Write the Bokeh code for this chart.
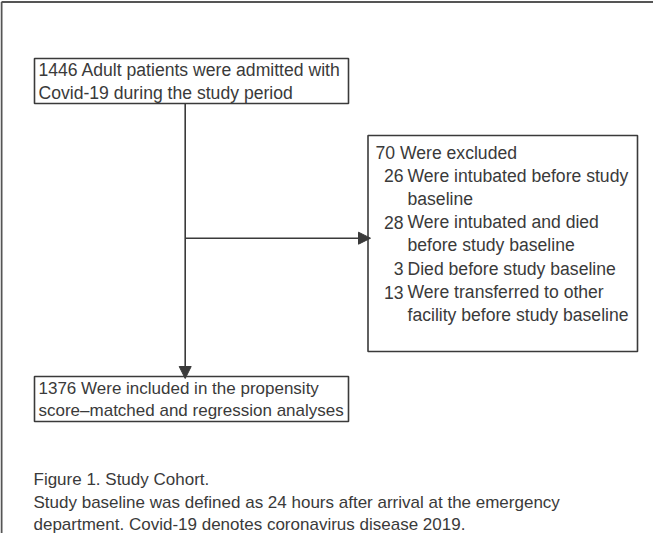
from bokeh.plotting import figure
from bokeh.models import Range1d, ColumnDataSource, Arrow, NormalHead
from bokeh.core.properties import value
from bokeh.embed import file_html
from bokeh.resources import INLINE

# ---- data ----
admitted = 1446
admitted_text = ["Adult patients were admitted with", "Covid-19 during the study period"]
excluded = 70
excluded_text = "Were excluded"
reason_counts = [26, 28, 3, 13]
reason_text = [
    ["Were intubated before study", "baseline"],
    ["Were intubated and died", "before study baseline"],
    ["Died before study baseline"],
    ["Were transferred to other", "facility before study baseline"],
]
included = 1376
included_text = ["Were included in the propensity", "score\u2013matched and regression analyses"]
caption_lines = [
    "Figure 1. Study Cohort.",
    "Study baseline was defined as 24 hours after arrival at the emergency",
    "department. Covid-19 denotes coronavirus disease 2019.",
]

FONT = "Liberation Sans"
FS_BOX = "17.6px"
FS_SMALL = "17px"
TXT = "#3a3a3a"
LINE = "#3a3a3a"

W, H = 653, 533
p = figure(width=W, height=H, x_range=Range1d(0, W), y_range=Range1d(H, 0),
           x_axis_type=None, y_axis_type=None, output_backend="svg",
           toolbar_location=None, min_border=0)
p.grid.visible = False
p.outline_line_color = None
p.background_fill_color = "white"
p.border_fill_color = "white"

# outer frame (left and top edges)
p.line(x=[1, 1], y=[1.5, H + 20], line_color="#555555", line_width=2)
p.line(x=[1, W + 20], y=[1.5, 1.5], line_color="#555555", line_width=2)

# boxes
boxes = ColumnDataSource(dict(left=[34, 367.5, 34], right=[348, 637, 348],
                              top=[58, 135, 376], bottom=[103, 351, 421]))
p.quad(left="left", right="right", top="top", bottom="bottom", source=boxes,
       fill_color="white", line_color=LINE, line_width=1.6)

# connectors
vx = 184.7
p.add_layout(Arrow(x_start=vx, y_start=103, x_end=vx, y_end=378,
                   line_color=LINE, line_width=1.6,
                   end=NormalHead(size=12, fill_color=LINE, line_color=LINE, line_width=1)))
p.add_layout(Arrow(x_start=vx, y_start=237.7, x_end=370, y_end=237.7,
                   line_color=LINE, line_width=1.6,
                   end=NormalHead(size=12, fill_color=LINE, line_color=LINE, line_width=1)))

# box texts (left aligned)
xs, ys, ts = [], [], []
xs += [38, 38]; ys += [69.5, 92]
ts += [f"{admitted} {admitted_text[0]}", admitted_text[1]]
xs += [375]; ys += [152]; ts += [f"{excluded} {excluded_text}"]

# reason lines: counts right aligned, descriptions left aligned
num_x, desc_x = 403, 407
nx, ny, nt = [], [], []
y = 175
step = 23.3
for c, lines in zip(reason_counts, reason_text):
    nx.append(num_x); ny.append(y); nt.append(str(c))
    for ln in lines:
        xs.append(desc_x); ys.append(y); ts.append(ln)
        y += step

p.text(x=xs, y=ys, text=ts, text_font=value(FONT), text_font_size=FS_BOX,
       text_color=TXT, text_align="left", text_baseline="middle")
p.text(x=nx, y=ny, text=nt, text_font=value(FONT), text_font_size=FS_BOX,
       text_color=TXT, text_align="right", text_baseline="middle")

# bottom box text
p.text(x=[38, 38], y=[388, 410],
       text=[f"{included} {included_text[0]}", included_text[1]],
       text_font=value(FONT), text_font_size=FS_SMALL,
       text_color=TXT, text_align="left", text_baseline="middle")

# caption
p.text(x=[33] * len(caption_lines), y=[479, 501.5, 523.5], text=caption_lines,
       text_font=value(FONT), text_font_size=FS_SMALL,
       text_color=TXT, text_align="left", text_baseline="middle")

open("out.html", "w").write(file_html(p, INLINE))
